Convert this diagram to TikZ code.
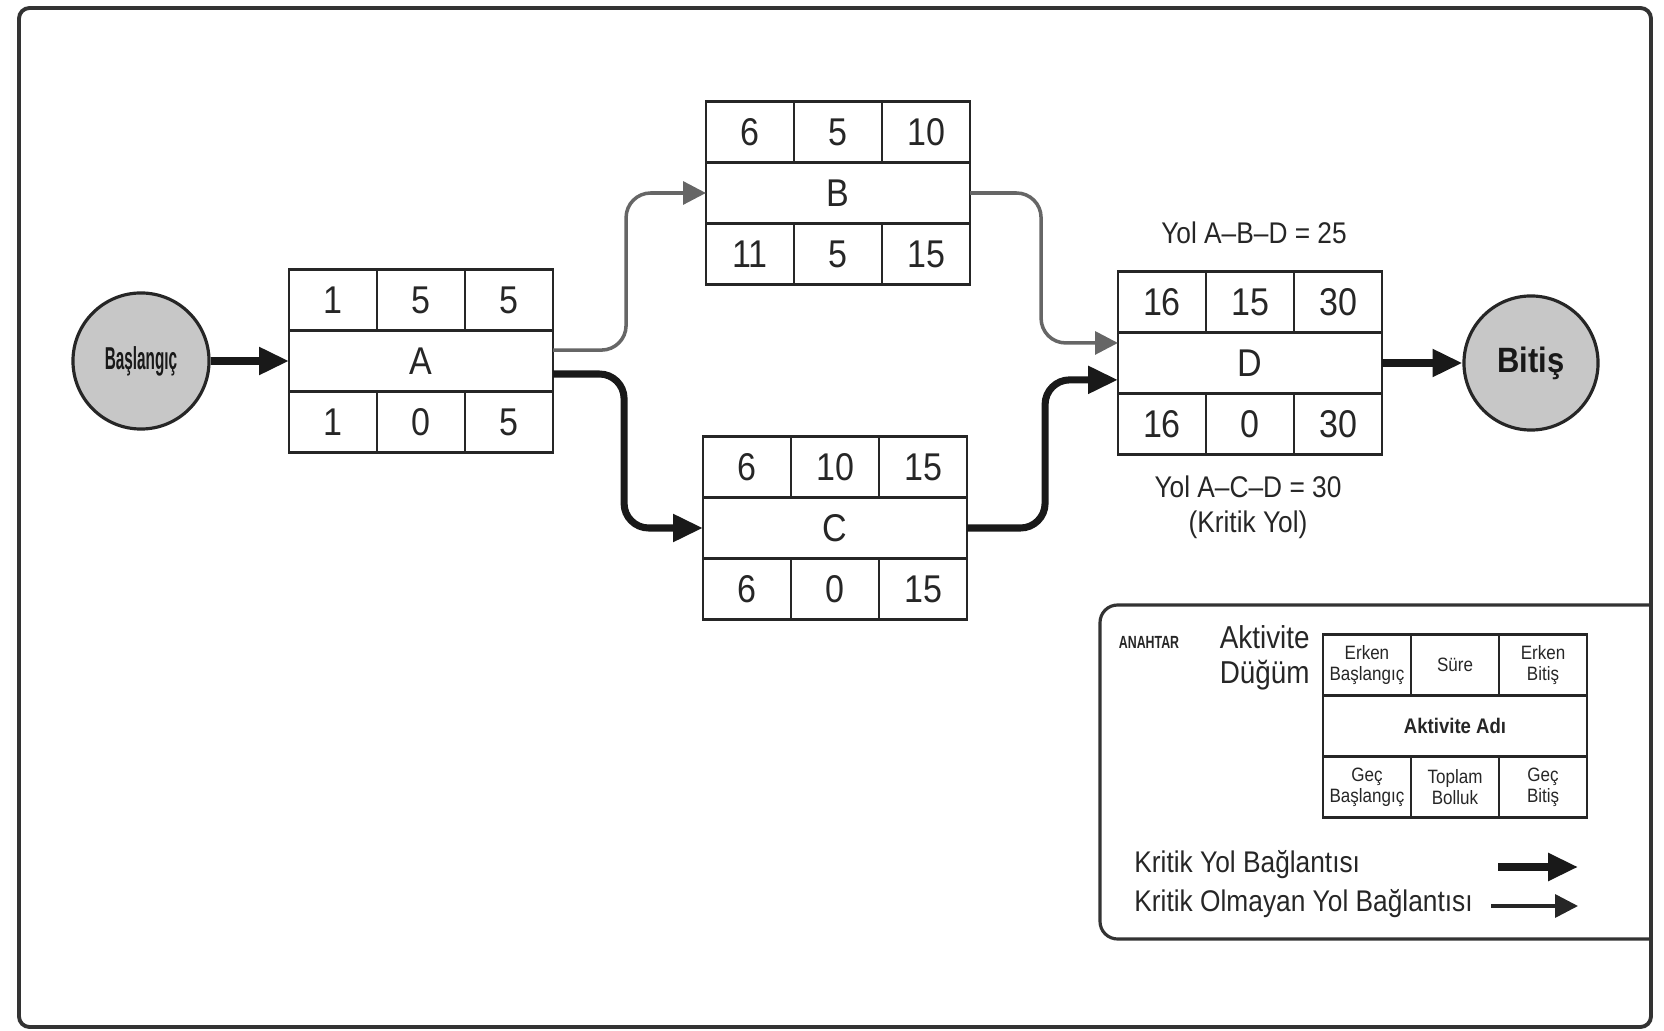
\documentclass[tikz,border=0pt]{standalone}
\usepackage{fontspec}
\setmainfont{Liberation Sans}[FakeStretch=0.88]
\usepackage{graphicx}
\usetikzlibrary{arrows.meta}

% one activity node: name, centre of middle row, ES, D, EF, label, LS, slack, LF
\newcommand{\aktivite}[9]{%
\node[orta] (#1) at (#2) {#6};
\node[hucre, anchor=south west] (#1-es) at (#1.north west) {#3};
\node[hucre, anchor=south] (#1-d) at (#1.north) {#4};
\node[hucre, anchor=south east] (#1-ef) at (#1.north east) {#5};
\node[hucre, anchor=north west] (#1-ls) at (#1.south west) {#7};
\node[hucre, anchor=north] (#1-sl) at (#1.south) {#8};
\node[hucre, anchor=north east] (#1-lf) at (#1.south east) {#9};
}

\begin{document}
\begin{tikzpicture}[x=0.01cm, y=-0.01cm,
  hucre/.style={draw=black!85, line width=0.7pt, minimum width=0.88cm, minimum height=0.61cm, inner sep=0pt, outer sep=0pt, font=\fontsize{11}{12}\selectfont, text=black!85, align=center},
  orta/.style={hucre, minimum width=2.64cm},
  daire/.style={circle, draw=black!85, line width=0.9pt, fill=black!22, inner sep=0pt, text=black!90},
  yazi/.style={font=\fontsize{8.5}{10}\selectfont, text=black!85},
  kritik/.style={line width=2pt, draw=black!90, rounded corners=7pt, -{Triangle[length=8.5pt,width=7.5pt]}},
  normal/.style={line width=1pt, draw=black!60, rounded corners=7pt, -{Triangle[length=6.5pt,width=6.5pt]}}]
\useasboundingbox (0,0) rectangle (1664,1031);
\draw[line width=1.1pt, black!80, rounded corners=3pt] (19,8) rectangle (1651,1027);

\node[daire, minimum size=1.36cm] (bas) at (141,361) {\fontsize{9}{9}\selectfont\bfseries\scalebox{0.55}[1]{Başlangıç}};
\node[daire, minimum size=1.34cm] (bitis) at (1531,363) {\fontsize{10}{10}\selectfont\bfseries Bitiş};

\aktivite{A}{421,361}{1}{5}{5}{A}{1}{0}{5}
\aktivite{B}{838,193}{6}{5}{10}{B}{11}{5}{15}
\aktivite{C}{835,528}{6}{10}{15}{C}{6}{0}{15}
\aktivite{D}{1250,363}{16}{15}{30}{D}{16}{0}{30}

\draw[kritik] (bas) -- (A);
\draw[normal] ([yshift=3.1pt]A.east) -- ++(73,0) |- (B.west);
\draw[kritik] ([yshift=-3.7pt]A.east) -- ++(71,0) |- (C.west);
\draw[normal] (B.east) -- ++(71,0) |- ([yshift=5.7pt]D.west);
\draw[kritik] (C.east) -- ++(78,0) |- ([yshift=-4.8pt]D.west);
\draw[kritik] (D) -- (bitis);

\node[yazi] (abd) at (1254,233) {Yol A--B--D = 25};
\node[yazi, align=center] (acd) at (1248,507) {Yol A--C--D = 30\\(Kritik Yol)};

% key
\draw[line width=0.9pt, black!80, rounded corners=5pt] (1651,605) -- (1100,605) -- (1100,939) -- (1651,939);
\node[font=\fontsize{5}{5}\selectfont\bfseries, text=black!85] (anahtar) at (1149,642) {\scalebox{0.8}[1]{ANAHTAR}};
\node[font=\fontsize{9}{10}\selectfont, text=black!85, align=right, anchor=east] (dugum) at (1322,658) {Aktivite\\Düğüm};
\begin{scope}[hucre/.append style={font=\fontsize{5.5}{6}\selectfont}]
\aktivite{K}{1455,726}{Erken\\Başlangıç}{Süre}{Erken\\Bitiş}{\fontsize{6}{6}\selectfont\bfseries Aktivite Adı}{Geç\\Başlangıç}{Toplam\\Bolluk}{Geç\\Bitiş}
\end{scope}
\node[yazi, anchor=west] (kyb) at (1122,865) {Kritik Yol Bağlantısı};
\node[yazi, anchor=west] (koyb) at (1122,904) {Kritik Olmayan Yol Bağlantısı};
\coordinate (k1) at (1498,867);
\coordinate (k2) at (1578,867);
\coordinate (n1) at (1491,906);
\coordinate (n2) at (1578,906);
\draw[kritik] (k1) -- (k2);
\draw[normal, draw=black!85] (n1) -- (n2);
\end{tikzpicture}
\end{document}
